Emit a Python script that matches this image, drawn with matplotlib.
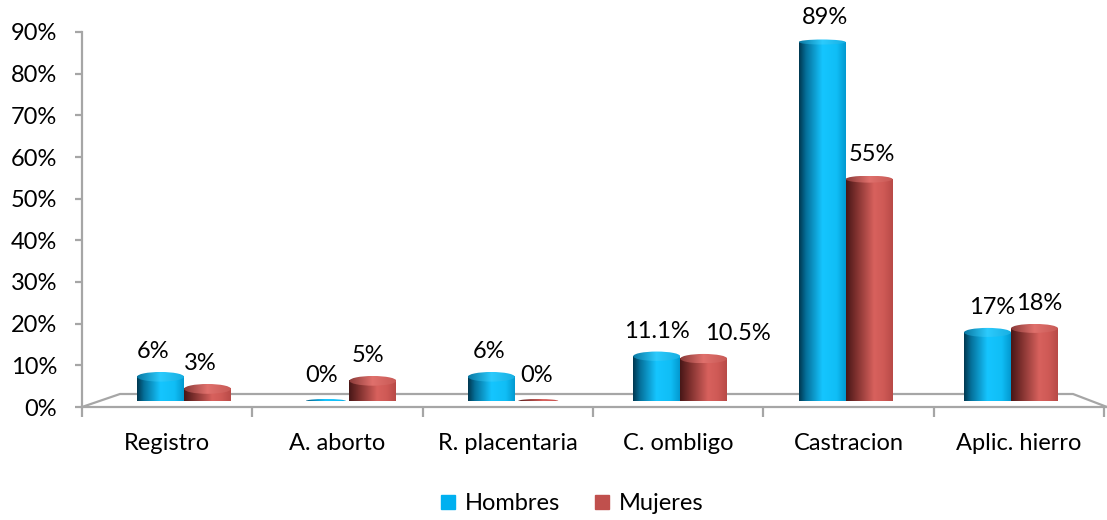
import numpy as np
import matplotlib.pyplot as plt
from matplotlib.patches import Ellipse
from matplotlib.colors import LinearSegmentedColormap
from matplotlib.lines import Line2D

plt.rcParams['font.family'] = ['Lato', 'DejaVu Sans']

categories = ["Registro", "A. aborto", "R. placentaria", "C. ombligo", "Castracion", "Aplic. hierro"]
hombres = [6, 0, 6, 11.1, 89, 17]
mujeres = [3, 5, 0, 10.5, 55, 18]
hombres_txt = ["6%", "0%", "6%", "11.1%", "89%", "17%"]
mujeres_txt = ["3%", "5%", "0%", "10.5%", "55%", "18%"]

W, H = 1107, 520
fig = plt.figure(figsize=(W / 100, H / 100), dpi=100)
fs = 17


def box(x0, y0, x1, y1):
    # pixel box (y from top) -> figure fraction
    return [x0 / W, 1 - y1 / H, (x1 - x0) / W, (y1 - y0) / H]


# front axes: ticks, labels, floor
ax = fig.add_axes(box(82, 32, 1104, 407))
ax.set_xlim(-0.5, 5.5)
ax.set_ylim(0, 90)

# back plane axes for the cylinders (3d perspective is a bit narrower)
bx = fig.add_axes(box(101.3, 38, 1093.7, 401))
ppu = (401 - 38) / 90.0  # pixels per unit in bar axes

grey = '#a6a6a6'
for s in ['top', 'right', 'bottom']:
    ax.spines[s].set_visible(False)
ax.spines['left'].set_color(grey)
ax.spines['left'].set_linewidth(1.6)

ax.set_yticks(np.arange(0, 91, 10))
ax.set_yticklabels([f"{v}%" for v in range(0, 91, 10)])
ax.tick_params(axis='y', length=5, width=1.6, color=grey, labelsize=fs, pad=13)

ax.set_xticks(np.arange(-0.5, 5.6, 1))
ax.set_xticklabels([])
ax.set_xticks(np.arange(6), minor=True)
ax.set_xticklabels(categories, minor=True)
ax.tick_params(axis='x', which='major', length=7, width=1.6, color=grey, direction='out')
ax.tick_params(axis='x', which='minor', length=0, labelsize=fs, pad=19)

# floor of the 3d chart
ax.plot([-0.5, 5.518], [0, 0], color=grey, lw=1.6, clip_on=False)
ax.plot([-0.5, -0.277, 5.318, 5.518], [0, 3.12, 3.12, 0], color=grey, lw=1.6, clip_on=False)

blue_cm = LinearSegmentedColormap.from_list('b', [(0, '#00374f'), (0.15, '#05709a'), (0.5, '#15c5ff'),
                                                  (0.8, '#10bef6'), (1, '#0399d0')])
blue_top = LinearSegmentedColormap.from_list('bt', [(0, '#0a78a2'), (0.5, '#2ccbfd'), (1, '#18afe2')])
red_cm = LinearSegmentedColormap.from_list('r', [(0, '#471717'), (0.2, '#7a2e2c'), (0.6, '#d8615d'),
                                                 (0.8, '#cf5a56'), (1, '#b84a47')])
red_top = LinearSegmentedColormap.from_list('rt', [(0, '#8a3a38'), (0.5, '#e0706c'), (1, '#c85a56')])
grad = np.linspace(0, 1, 256).reshape(1, -1)

bar_w = 47 / 165.4
xpos = np.arange(len(categories))


def cylinder(x, v, cmap, cmap_top):
    x0, x1 = x - bar_w / 2, x + bar_w / 2
    if v == 0:
        h = 4 / ppu
        e = Ellipse((x, 0), bar_w * 0.85, h, transform=bx.transData)
        im = bx.imshow(grad, cmap=cmap, extent=[x0, x1, -h, h], aspect='auto', zorder=2)
        im.set_clip_path(e)
        return
    h = (10 - 5 * v / 90) / ppu
    e = Ellipse((x, 0), bar_w, h, transform=bx.transData)
    im = bx.imshow(grad, cmap=cmap, extent=[x0, x1, -h / 2, h / 2], aspect='auto', zorder=2)
    im.set_clip_path(e)
    bx.imshow(grad, cmap=cmap, extent=[x0, x1, 0, v], aspect='auto', zorder=2)
    e2 = Ellipse((x, v), bar_w, h, transform=bx.transData)
    im = bx.imshow(grad, cmap=cmap_top, extent=[x0, x1, v - h / 2, v + h / 2], aspect='auto', zorder=3)
    im.set_clip_path(e2)


for i in range(len(categories)):
    cylinder(xpos[i] - bar_w / 2, hombres[i], blue_cm, blue_top)
    cylinder(xpos[i] + bar_w / 2, mujeres[i], red_cm, red_top)

# data labels (slight perspective drift to the right)
for i in range(len(categories)):
    drift = -7 + 2.4 * i
    bx.annotate(hombres_txt[i], (xpos[i] - bar_w / 2, hombres[i]), xytext=(drift, 25),
                textcoords='offset pixels', ha='center', va='center', fontsize=fs, annotation_clip=False)
    nudge = 34 if i == 3 else 0
    bx.annotate(mujeres_txt[i], (xpos[i] + bar_w / 2, mujeres[i]), xytext=(drift + nudge, 25),
                textcoords='offset pixels', ha='center', va='center', fontsize=fs, annotation_clip=False)

bx.set_xlim(-0.5, 5.5)
bx.set_ylim(0, 90)
bx.axis('off')

handles = [Line2D([], [], marker='s', ls='', color='#00b0f0', markersize=10),
           Line2D([], [], marker='s', ls='', color='#c0504d', markersize=10)]
fig.legend(handles, ['Hombres', 'Mujeres'], loc='center', bbox_to_anchor=(571 / W, 1 - 504 / H),
           ncol=2, frameon=False, fontsize=fs, handletextpad=0.3, columnspacing=1.4, handlelength=0.8)

fig.savefig('out.png', dpi=100)
